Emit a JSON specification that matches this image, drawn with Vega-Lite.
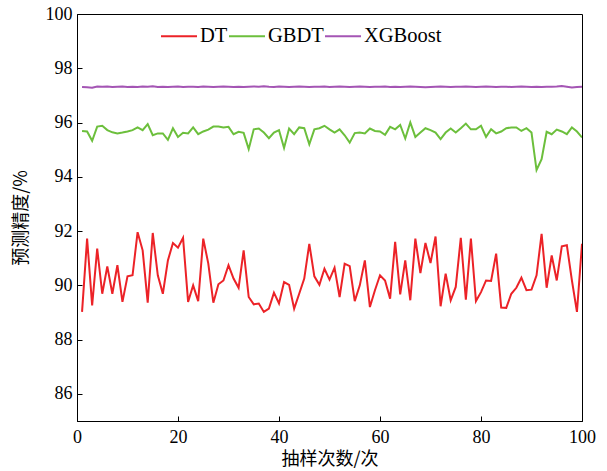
{
  "$schema": "https://vega.github.io/schema/vega-lite/v6.json",
  "autosize": {"type": "none"},
  "width": 505,
  "height": 407,
  "padding": {"left": 77, "top": 14, "right": 25, "bottom": 50},
  "background": "white",
  "config": {
    "view": {"stroke": "black", "strokeWidth": 1},
    "font": "Liberation Serif"
  },
  "data": {
    "values": [
      {"i":1,"DT":89.02,"GBDT":95.69,"XGBoost":97.31},
      {"i":2,"DT":91.72,"GBDT":95.67,"XGBoost":97.30},
      {"i":3,"DT":89.26,"GBDT":95.33,"XGBoost":97.28},
      {"i":4,"DT":91.35,"GBDT":95.85,"XGBoost":97.33},
      {"i":5,"DT":89.69,"GBDT":95.88,"XGBoost":97.32},
      {"i":6,"DT":90.70,"GBDT":95.72,"XGBoost":97.33},
      {"i":7,"DT":89.69,"GBDT":95.64,"XGBoost":97.31},
      {"i":8,"DT":90.74,"GBDT":95.60,"XGBoost":97.32},
      {"i":9,"DT":89.39,"GBDT":95.63,"XGBoost":97.33},
      {"i":10,"DT":90.33,"GBDT":95.67,"XGBoost":97.31},
      {"i":11,"DT":90.37,"GBDT":95.72,"XGBoost":97.32},
      {"i":12,"DT":91.96,"GBDT":95.82,"XGBoost":97.31},
      {"i":13,"DT":91.29,"GBDT":95.72,"XGBoost":97.33},
      {"i":14,"DT":89.36,"GBDT":95.94,"XGBoost":97.32},
      {"i":15,"DT":91.93,"GBDT":95.53,"XGBoost":97.34},
      {"i":16,"DT":90.37,"GBDT":95.60,"XGBoost":97.31},
      {"i":17,"DT":89.69,"GBDT":95.60,"XGBoost":97.32},
      {"i":18,"DT":90.92,"GBDT":95.36,"XGBoost":97.31},
      {"i":19,"DT":91.56,"GBDT":95.79,"XGBoost":97.32},
      {"i":20,"DT":91.39,"GBDT":95.47,"XGBoost":97.33},
      {"i":21,"DT":91.75,"GBDT":95.62,"XGBoost":97.31},
      {"i":22,"DT":89.39,"GBDT":95.60,"XGBoost":97.32},
      {"i":23,"DT":90.00,"GBDT":95.82,"XGBoost":97.32},
      {"i":24,"DT":89.42,"GBDT":95.57,"XGBoost":97.31},
      {"i":25,"DT":91.72,"GBDT":95.67,"XGBoost":97.33},
      {"i":26,"DT":90.80,"GBDT":95.74,"XGBoost":97.32},
      {"i":27,"DT":89.36,"GBDT":95.85,"XGBoost":97.31},
      {"i":28,"DT":90.04,"GBDT":95.85,"XGBoost":97.32},
      {"i":29,"DT":90.18,"GBDT":95.82,"XGBoost":97.33},
      {"i":30,"DT":90.74,"GBDT":95.84,"XGBoost":97.32},
      {"i":31,"DT":90.25,"GBDT":95.57,"XGBoost":97.31},
      {"i":32,"DT":89.91,"GBDT":95.66,"XGBoost":97.32},
      {"i":33,"DT":91.29,"GBDT":95.62,"XGBoost":97.31},
      {"i":34,"DT":89.57,"GBDT":95.02,"XGBoost":97.32},
      {"i":35,"DT":89.30,"GBDT":95.75,"XGBoost":97.33},
      {"i":36,"DT":89.33,"GBDT":95.78,"XGBoost":97.32},
      {"i":37,"DT":89.02,"GBDT":95.63,"XGBoost":97.34},
      {"i":38,"DT":89.14,"GBDT":95.42,"XGBoost":97.32},
      {"i":39,"DT":89.73,"GBDT":95.63,"XGBoost":97.31},
      {"i":40,"DT":89.33,"GBDT":95.72,"XGBoost":97.33},
      {"i":41,"DT":90.12,"GBDT":95.06,"XGBoost":97.32},
      {"i":42,"DT":90.02,"GBDT":95.78,"XGBoost":97.31},
      {"i":43,"DT":89.14,"GBDT":95.57,"XGBoost":97.32},
      {"i":44,"DT":89.69,"GBDT":95.82,"XGBoost":97.33},
      {"i":45,"DT":90.25,"GBDT":95.79,"XGBoost":97.32},
      {"i":46,"DT":91.53,"GBDT":95.20,"XGBoost":97.31},
      {"i":47,"DT":90.33,"GBDT":95.75,"XGBoost":97.32},
      {"i":48,"DT":90.02,"GBDT":95.79,"XGBoost":97.32},
      {"i":49,"DT":90.61,"GBDT":95.88,"XGBoost":97.33},
      {"i":50,"DT":90.21,"GBDT":95.75,"XGBoost":97.31},
      {"i":51,"DT":90.65,"GBDT":95.63,"XGBoost":97.32},
      {"i":52,"DT":89.57,"GBDT":95.75,"XGBoost":97.33},
      {"i":53,"DT":90.80,"GBDT":95.53,"XGBoost":97.32},
      {"i":54,"DT":90.71,"GBDT":95.26,"XGBoost":97.31},
      {"i":55,"DT":89.42,"GBDT":95.61,"XGBoost":97.32},
      {"i":56,"DT":90.00,"GBDT":95.63,"XGBoost":97.33},
      {"i":57,"DT":90.92,"GBDT":95.60,"XGBoost":97.32},
      {"i":58,"DT":89.20,"GBDT":95.78,"XGBoost":97.31},
      {"i":59,"DT":89.82,"GBDT":95.69,"XGBoost":97.32},
      {"i":60,"DT":90.37,"GBDT":95.67,"XGBoost":97.32},
      {"i":61,"DT":90.18,"GBDT":95.55,"XGBoost":97.33},
      {"i":62,"DT":89.51,"GBDT":95.84,"XGBoost":97.31},
      {"i":63,"DT":91.60,"GBDT":95.75,"XGBoost":97.32},
      {"i":64,"DT":89.67,"GBDT":95.91,"XGBoost":97.31},
      {"i":65,"DT":90.92,"GBDT":95.41,"XGBoost":97.32},
      {"i":66,"DT":89.45,"GBDT":96.00,"XGBoost":97.33},
      {"i":67,"DT":91.72,"GBDT":95.47,"XGBoost":97.32},
      {"i":68,"DT":90.45,"GBDT":95.63,"XGBoost":97.31},
      {"i":69,"DT":91.56,"GBDT":95.79,"XGBoost":97.30},
      {"i":70,"DT":90.82,"GBDT":95.72,"XGBoost":97.31},
      {"i":71,"DT":91.80,"GBDT":95.63,"XGBoost":97.32},
      {"i":72,"DT":89.23,"GBDT":95.39,"XGBoost":97.33},
      {"i":73,"DT":90.43,"GBDT":95.63,"XGBoost":97.32},
      {"i":74,"DT":89.45,"GBDT":95.78,"XGBoost":97.31},
      {"i":75,"DT":89.94,"GBDT":95.63,"XGBoost":97.32},
      {"i":76,"DT":91.75,"GBDT":95.79,"XGBoost":97.32},
      {"i":77,"DT":89.47,"GBDT":95.96,"XGBoost":97.33},
      {"i":78,"DT":91.72,"GBDT":95.75,"XGBoost":97.32},
      {"i":79,"DT":89.42,"GBDT":95.75,"XGBoost":97.31},
      {"i":80,"DT":89.75,"GBDT":95.88,"XGBoost":97.32},
      {"i":81,"DT":90.18,"GBDT":95.47,"XGBoost":97.33},
      {"i":82,"DT":90.16,"GBDT":95.75,"XGBoost":97.32},
      {"i":83,"DT":91.17,"GBDT":95.60,"XGBoost":97.31},
      {"i":84,"DT":89.18,"GBDT":95.67,"XGBoost":97.32},
      {"i":85,"DT":89.17,"GBDT":95.79,"XGBoost":97.32},
      {"i":86,"DT":89.69,"GBDT":95.82,"XGBoost":97.31},
      {"i":87,"DT":89.91,"GBDT":95.82,"XGBoost":97.32},
      {"i":88,"DT":90.28,"GBDT":95.69,"XGBoost":97.33},
      {"i":89,"DT":89.82,"GBDT":95.79,"XGBoost":97.32},
      {"i":90,"DT":89.84,"GBDT":95.63,"XGBoost":97.31},
      {"i":91,"DT":90.37,"GBDT":94.25,"XGBoost":97.32},
      {"i":92,"DT":91.90,"GBDT":94.65,"XGBoost":97.31},
      {"i":93,"DT":89.91,"GBDT":95.66,"XGBoost":97.32},
      {"i":94,"DT":91.10,"GBDT":95.57,"XGBoost":97.32},
      {"i":95,"DT":90.18,"GBDT":95.74,"XGBoost":97.33},
      {"i":96,"DT":91.44,"GBDT":95.67,"XGBoost":97.35},
      {"i":97,"DT":91.48,"GBDT":95.57,"XGBoost":97.32},
      {"i":98,"DT":90.18,"GBDT":95.82,"XGBoost":97.29},
      {"i":99,"DT":89.02,"GBDT":95.67,"XGBoost":97.31},
      {"i":100,"DT":91.53,"GBDT":95.45,"XGBoost":97.32}
    ]
  },
  "transform": [{"fold": ["DT", "GBDT", "XGBoost"], "as": ["model", "value"]}],
  "mark": {"type": "line", "strokeWidth": 2, "clip": true},
  "encoding": {
    "x": {
      "field": "i", "type": "quantitative",
      "scale": {"domain": [0, 100], "nice": false},
      "axis": {
        "title": "抽样次数/次", "titleFont": "Noto Sans CJK SC", "titleFontSize": 18, "titleFontWeight": "normal", "titleColor": "black", "titlePadding": 4,
        "values": [0, 20, 40, 60, 80, 100], "grid": false,
        "domainColor": "black", "tickColor": "black", "tickSize": -5,
        "labelFont": "Liberation Serif", "labelFontSize": 18, "labelColor": "black", "labelPadding": 12, "labelFlush": false
      }
    },
    "y": {
      "field": "value", "type": "quantitative",
      "scale": {"domain": [85, 100], "nice": false, "zero": false},
      "axis": {
        "title": "预测精度/%", "titleFont": "Noto Sans CJK SC", "titleFontSize": 18, "titleFontWeight": "normal", "titleColor": "black", "titlePadding": 15,
        "values": [86, 88, 90, 92, 94, 96, 98, 100], "grid": false,
        "domainColor": "black", "tickColor": "black", "tickSize": -5,
        "labelFont": "Liberation Serif", "labelFontSize": 18, "labelColor": "black", "labelPadding": 10
      }
    },
    "color": {
      "field": "model", "type": "nominal",
      "scale": {"domain": ["DT", "GBDT", "XGBoost"], "range": ["#ec2227", "#6cbf3c", "#a455b4"]},
      "legend": {
        "title": null, "orient": "none", "direction": "horizontal", "columns": 3,
        "legendX": 83, "legendY": 3, "padding": 0,
        "symbolType": "stroke", "symbolSize": 1296, "symbolStrokeWidth": 2,
        "labelFont": "Liberation Serif", "labelFontSize": 20.5, "labelColor": "black",
        "labelOffset": 2, "columnPadding": -5
      }
    }
  }
}
